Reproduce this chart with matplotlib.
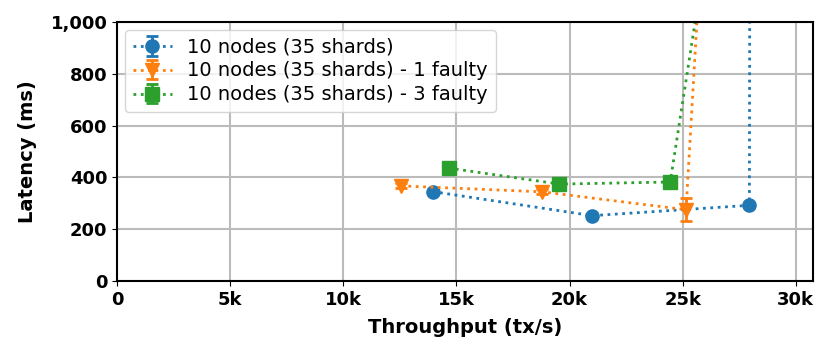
import matplotlib
matplotlib.use("Agg")
import matplotlib.pyplot as plt
from matplotlib.ticker import FuncFormatter

plt.rcParams["font.family"] = ["DejaVu Sans"]
plt.rcParams["font.weight"] = "bold"
plt.rcParams["axes.labelweight"] = "bold"

# throughput (tx/s) and latency (ms)
labels = [
    "10 nodes (35 shards)",
    "10 nodes (35 shards) - 1 faulty",
    "10 nodes (35 shards) - 3 faulty",
]
x_base = [13950, 21000, 27950, 28000]
y_base = [345, 252, 292, 3000]
err_base = [8, 8, 8, 0]

x_f1 = [12550, 18800, 25150, 26000]
y_f1 = [367, 344, 275, 1560]
err_f1 = [10, 10, 44, 0]

x_f3 = [14650, 19550, 24450, 25800]
y_f3 = [436, 374, 382, 1140]
err_f3 = [8, 8, 8, 0]

series = [
    (x_base, y_base, err_base, "o", "tab:blue"),
    (x_f1, y_f1, err_f1, "v", "tab:orange"),
    (x_f3, y_f3, err_f3, "s", "tab:green"),
]

fig = plt.figure(figsize=(8.31, 3.56), dpi=100)
ax = fig.add_axes([0.141, 0.211, 0.837, 0.727])

for (xs, ys, es, m, c), lab in zip(series, labels):
    ax.errorbar(xs, ys, yerr=es, fmt=m, linestyle=":", color=c, label=lab,
                markersize=9.5, linewidth=2, capsize=4, elinewidth=2, capthick=2)

ax.set_xlim(0, 30750)
ax.set_ylim(0, 1000)
ax.set_xticks(range(0, 30001, 5000))
ax.set_yticks(range(0, 1001, 200))
ax.xaxis.set_major_formatter(FuncFormatter(lambda v, p: "0" if v == 0 else f"{int(v / 1000)}k"))
ax.yaxis.set_major_formatter(FuncFormatter(lambda v, p: f"{int(v):,}"))
ax.tick_params(labelsize=13)
ax.set_xlabel("Throughput (tx/s)", fontsize=14, labelpad=7)
ax.set_ylabel("Latency (ms)", fontsize=14, labelpad=10)
ax.grid(True, color="#bbbbbb", linewidth=1.5)
ax.set_axisbelow(True)
for s in ax.spines.values():
    s.set_linewidth(1.5)
ax.legend(loc="upper left", labelspacing=0.25, borderaxespad=0.4,
          prop={"family": "DejaVu Sans", "weight": "normal", "size": 14})

fig.savefig("out.png")
